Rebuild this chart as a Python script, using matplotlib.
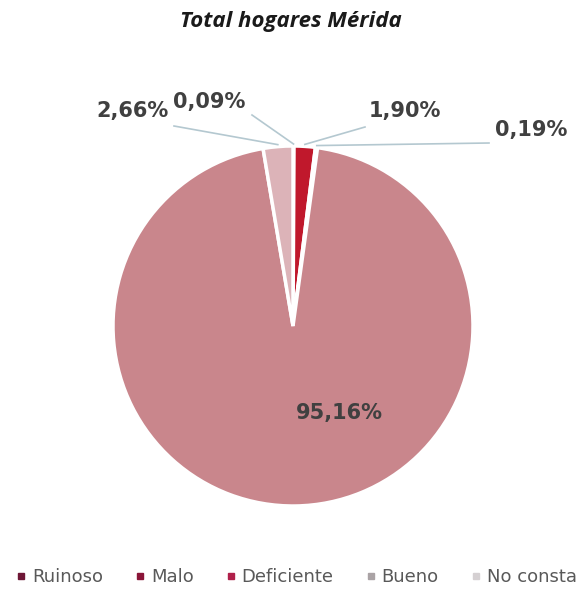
import numpy as np
import matplotlib
matplotlib.use('Agg')
import matplotlib.pyplot as plt
from matplotlib.lines import Line2D

categorias = ['Ruinoso', 'Malo', 'Deficiente', 'Bueno', 'No consta']
porcentajes = [0.09, 1.90, 0.19, 95.16, 2.66]
etiquetas = ['0,09%', '1,90%', '0,19%', '95,16%', '2,66%']

colores_pie = ['#7a1c3a', '#c0182c', '#d04a5a', '#c9868c', '#dcb3b8']
colores_leyenda = ['#6e1736', '#8a1538', '#b0204a', '#aaa3a5', '#d5d0d2']

plt.rcParams['font.family'] = ['DejaVu Sans']

fig = plt.figure(figsize=(5.81, 5.92), dpi=100)
ax = fig.add_axes([0, 0, 1, 1])

cx, cy, r = 293, 266, 180
wedges, _ = ax.pie(porcentajes, colors=colores_pie, startangle=90, counterclock=False,
                   center=(cx, cy), radius=r, frame=True,
                   wedgeprops=dict(edgecolor='white', linewidth=2.5))
ax.set_xlim(0, 581)
ax.set_ylim(0, 592)
ax.axis('off')

# posiciones de las etiquetas y arranque de sus líneas guía
pos_etiquetas = {
    0: (209, 490),
    1: (405, 481),
    2: (531, 462),
    3: (339, 179),
    4: (133, 481),
}
inicio_linea = {
    0: (252, 477),
    1: (365, 465),
    2: (489, 449),
    4: (174, 466),
}

acum = np.cumsum([0] + porcentajes)
for i, txt in enumerate(etiquetas):
    x, y = pos_etiquetas[i]
    ax.text(x, y, txt, ha='center', va='center', fontsize=15,
            fontweight='bold', color='#404040')
    if i in inicio_linea:
        medio = (acum[i] + acum[i + 1]) / 2
        ang = np.deg2rad(90 - medio * 3.6)
        px = cx + (r + 2) * np.cos(ang)
        py = cy + (r + 2) * np.sin(ang)
        x0, y0 = inicio_linea[i]
        ax.plot([x0, px], [y0, py], color='#b4c8d0', linewidth=1.2)

ax.text(291, 570, 'Total hogares Mérida', ha='center', va='center',
        fontsize=16, fontweight='bold', fontstyle='italic', color='#1a1a1a',
        family='Open Sans')

handles = [Line2D([], [], marker='s', linestyle='none', markersize=5,
                  markerfacecolor=c, markeredgecolor=c) for c in colores_leyenda]
ax.legend(handles, categorias, loc='center', bbox_to_anchor=(0.51, 0.025),
          bbox_transform=fig.transFigure, ncol=5, frameon=False, fontsize=13,
          handletextpad=0.3, columnspacing=1.75, handlelength=0.6,
          labelcolor='#595959')

fig.savefig('out.png', dpi=100, facecolor='white')
